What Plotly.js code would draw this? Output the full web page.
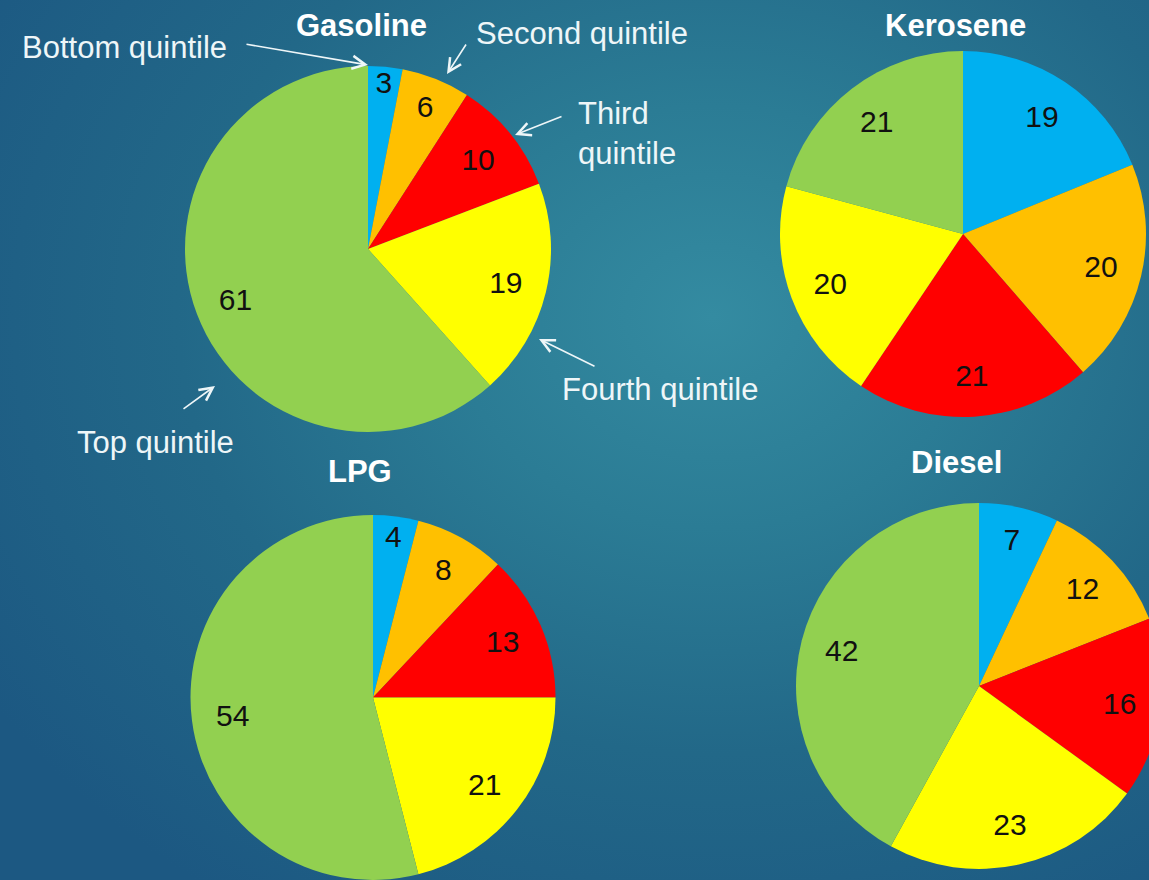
<!DOCTYPE html>
<html>
<head>
<meta charset="utf-8">
<script src="https://cdn.plot.ly/plotly-3.0.1.min.js"></script>
<style>
  html, body { margin: 0; padding: 0; width: 1149px; height: 880px; overflow: hidden; }
  body {
    background: radial-gradient(ellipse 75% 80% at 62% 36%, #348ba1 0%, #2b7c95 30%, #226888 62%, #1c5882 100%);
    font-family: "Liberation Sans", Arial, sans-serif;
  }
  #chart { width: 1180px; height: 880px; }
</style>
</head>
<body>
<div id="chart"></div>
<script>
// Share of fuel consumption by household income quintile
const quintiles = ["Bottom quintile", "Second quintile", "Third quintile", "Fourth quintile", "Top quintile"];
const sliceColors = ["#00b0f0", "#ffc000", "#ff0000", "#ffff00", "#92d050"];

const gasoline = [3, 6, 10, 19, 61];
const kerosene = [19, 20, 21, 20, 21];
const lpg      = [4, 8, 13, 21, 54];
const diesel   = [7, 12, 16, 23, 42];

const W = 1180, H = 880;
const FONT = "Liberation Sans, Arial, sans-serif";

// pixel box -> paper domain
function dom(left, right, top, bottom) {
  return { x: [left / W, right / W], y: [1 - bottom / H, 1 - top / H] };
}

// filled pie, no text
function pie(values, domain) {
  return {
    type: "pie",
    labels: quintiles,
    values: values,
    sort: false,
    direction: "clockwise",
    rotation: 0,
    domain: domain,
    marker: { colors: sliceColors, line: { width: 0 } },
    textinfo: "none",
    hoverinfo: "label+value",
    showlegend: false
  };
}

// transparent ring over the pie that carries the value labels,
// so they sit in the outer part of each slice
function labelRing(values, domain) {
  return {
    type: "pie",
    labels: quintiles,
    values: values,
    sort: false,
    direction: "clockwise",
    rotation: 0,
    hole: 0.55,
    domain: domain,
    marker: { colors: quintiles.map(() => "rgba(0,0,0,0)"), line: { width: 0 } },
    texttemplate: "%{value}",
    textposition: "inside",
    insidetextorientation: "horizontal",
    textfont: { family: FONT, size: 30, color: "#111111" },
    hoverinfo: "skip",
    showlegend: false
  };
}

const boxes = [
  dom(185, 551, 66, 432),   // Gasoline
  dom(780, 1146, 50, 418),  // Kerosene
  dom(190, 556, 515, 881),  // LPG
  dom(796, 1162, 503, 869)  // Diesel
];
const series = [gasoline, kerosene, lpg, diesel];

const data = [];
series.forEach((v, i) => data.push(pie(v, boxes[i])));
series.forEach((v, i) => data.push(labelRing(v, boxes[i])));

const white = "#eef6f8";
const titleFont = { family: FONT, size: 31, color: "#ffffff", weight: "bold" };
const noteFont = { family: FONT, size: 31, color: white };

function px(x) { return x / W; }
function py(y) { return 1 - y / H; }

function title(text, x, y) {
  return { text: "<b>" + text + "</b>", x: px(x), y: py(y), xref: "paper", yref: "paper",
           xanchor: "center", yanchor: "middle", showarrow: false, font: titleFont };
}
function note(text, x, y) {
  return { text: text, x: px(x), y: py(y), xref: "paper", yref: "paper",
           xanchor: "left", yanchor: "middle", align: "left", showarrow: false, font: noteFont };
}
// arrow from tail (tx,ty) to head (hx,hy), pixel positions
function arrow(tx, ty, hx, hy) {
  return { text: "", x: px(hx), y: py(hy), xref: "paper", yref: "paper",
           ax: tx - hx, ay: ty - hy, axref: "pixel", ayref: "pixel",
           showarrow: true, arrowhead: 5, arrowsize: 1.6, arrowwidth: 1.6,
           arrowcolor: white, standoff: 0, startstandoff: 0 };
}

const annotations = [
  title("Gasoline", 361, 26),
  title("Kerosene", 955, 25),
  title("LPG", 360, 471),
  title("Diesel", 956, 462),

  note(quintiles[0], 20, 47),
  note(quintiles[1], 474, 34),
  note("Third<br>quintile", 576, 133),
  note(quintiles[3], 560, 389),
  note(quintiles[4], 75, 442),

  arrow(245, 44, 368, 65),
  arrow(467, 43, 447, 74),
  arrow(563, 116, 515, 135),
  arrow(596, 367, 539, 339),
  arrow(182, 410, 215, 386)
];

const layout = {
  width: W,
  height: H,
  margin: { l: 0, r: 0, t: 0, b: 0 },
  paper_bgcolor: "rgba(0,0,0,0)",
  plot_bgcolor: "rgba(0,0,0,0)",
  uniformtext: { mode: "show", minsize: 30 },
  annotations: annotations,
  showlegend: false
};

Plotly.newPlot("chart", data, layout, { displayModeBar: false, staticPlot: true });
</script>
</body>
</html>
